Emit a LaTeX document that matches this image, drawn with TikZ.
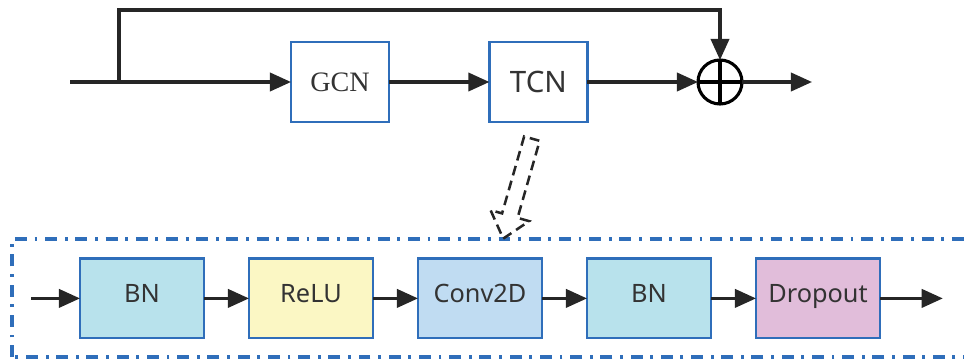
\documentclass[tikz,border=0pt]{standalone}
\usepackage{fontspec}
\setmainfont{Noto Sans}
\newfontfamily\gcnfont{Liberation Serif}
\usepackage{xcolor}
\usetikzlibrary{arrows.meta, positioning, shapes.arrows, calc}

\definecolor{boxblue}{HTML}{2F6EBA}
\definecolor{bnfill}{HTML}{B8E2EC}
\definecolor{relufill}{HTML}{FBF7C4}
\definecolor{convfill}{HTML}{C0DCF2}
\definecolor{dropfill}{HTML}{E1BDDA}

\begin{document}
\begin{tikzpicture}[
            block/.style={rectangle, draw=boxblue, line width=2pt, fill=white,
                          minimum width=2.45cm, minimum height=2cm, inner sep=0pt, outer sep=0pt,
                          font=\fontsize{21}{24}\selectfont, text=black!80},
            layer/.style={rectangle, draw=boxblue, line width=2pt,
                          minimum width=3.1cm, minimum height=1.98cm, inner sep=0pt, outer sep=0pt,
                          text height=0.72em, text depth=0.2em,
                          font=\fontsize{18}{21}\selectfont, text=black!80},
            edge/.style={-{Triangle[length=15pt, width=13pt]}, line width=2.2pt, black!85},
            frame/.style={draw=boxblue, line width=2.2pt,
                          dash pattern=on 8.5pt off 5.5pt on 2pt off 5.5pt},
            zoomarrow/.style={single arrow, draw=black!85, line width=1.8pt,
                          dash pattern=on 7pt off 4pt, inner xsep=0pt, inner ysep=0.17cm,
                          minimum height=2.6cm,
                          single arrow head extend=0.3cm, single arrow tip angle=80}
        ]

        \useasboundingbox (0,0) rectangle (24.1,9);
        \clip (0,0) rectangle (24.1,9);

        % Top row
        \coordinate (in) at (1.75, 6.95);
        \coordinate (split) at (2.975, 6.95);
        \node[block, font=\gcnfont\fontsize{20}{23}\selectfont] (gcn) at (8.5, 6.95) {GCN};
        \node[block] (tcn) at (13.46, 6.95) {TCN};
        \node[circle, draw, line width=2.2pt, minimum size=1.1cm, inner sep=0pt, outer sep=0pt] (sum) at (18.0, 6.95) {};
        \draw[line width=2.2pt] (sum.north) -- (sum.south) (sum.west) -- (sum.east);
        \coordinate (out) at (20.3, 6.95);

        % Edges (top)
        \draw[line width=2.2pt, black!85] (in) -- (split);
        \draw[edge] (split) -- (gcn);
        \draw[edge] (gcn) -- (tcn);
        \draw[edge] (tcn) -- (sum);
        \draw[edge] (sum) -- (out);
        \draw[edge] (split) |- (18.0, 8.75) -- (sum.north);

        % Frame of TCN details
        \draw[frame] (0.3, 0.075) rectangle (24.5, 3.025);
        \coordinate (tcnzoom) at ($(tcn.south)+(-0.14,-0.35)$);
        \coordinate (framezoom) at (12.625, 3.2);
        \node[zoomarrow, rotate=-106] (detail) at ($(tcnzoom)!0.5!(framezoom)$) {};

        % Bottom row
        \node[layer, fill=bnfill] (bn1) at (3.55, 1.54) {BN};
        \node[layer, fill=relufill, right=1.125cm of bn1] (relu) {ReLU};
        \node[layer, fill=convfill, right=1.125cm of relu] (conv) {Conv2D};
        \node[layer, fill=bnfill, right=1.125cm of conv] (bn2) {BN};
        \node[layer, fill=dropfill, right=1.125cm of bn2] (drop) {Dropout};
        \coordinate (bin) at (0.775, 1.54);
        \coordinate (bout) at (23.57, 1.54);

        % Edges (bottom)
        \draw[edge] (bin) -- (bn1);
        \draw[edge] (bn1) -- (relu);
        \draw[edge] (relu) -- (conv);
        \draw[edge] (conv) -- (bn2);
        \draw[edge] (bn2) -- (drop);
        \draw[edge] (drop) -- (bout);

    \end{tikzpicture}
\end{document}
